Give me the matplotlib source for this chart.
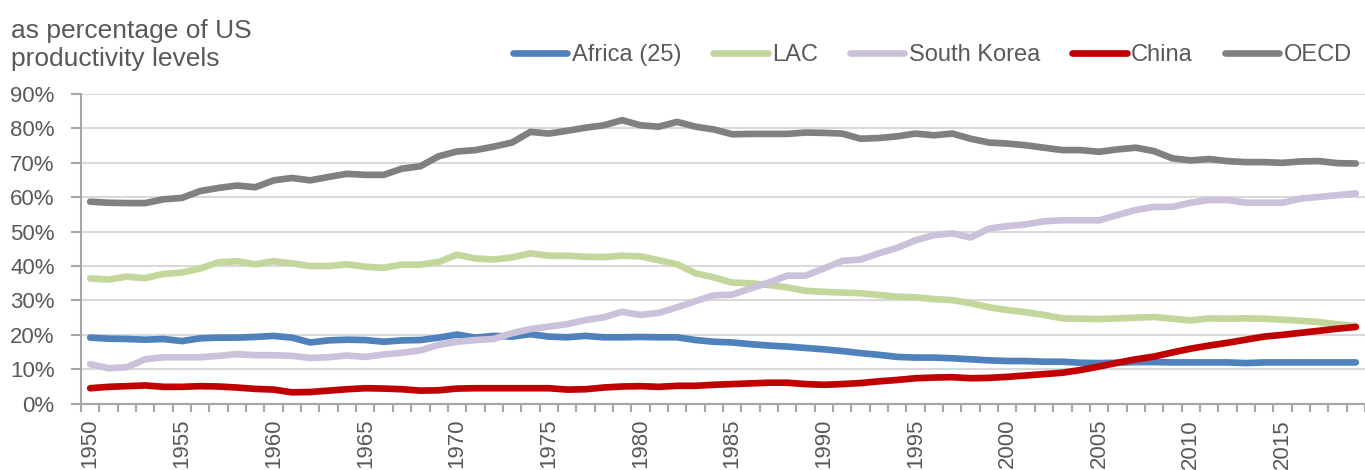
import numpy as np
import matplotlib
matplotlib.use("Agg")
import matplotlib.pyplot as plt

plt.rcParams['font.family'] = ['Liberation Sans', 'DejaVu Sans']

years = list(range(1950, 2020))

africa = [19.2, 18.9, 18.8, 18.6, 18.8, 18.2, 19.0, 19.2, 19.2, 19.4,
          19.7, 19.2, 17.8, 18.4, 18.6, 18.5, 18.0, 18.4, 18.5, 19.2,
          20.1, 19.2, 19.7, 19.5, 20.2, 19.5, 19.3, 19.7, 19.3, 19.3,
          19.4, 19.3, 19.3, 18.5, 18.0, 17.8, 17.3, 16.9, 16.6, 16.2,
          15.8, 15.3, 14.7, 14.2, 13.6, 13.4, 13.4, 13.2, 12.9, 12.6,
          12.4, 12.4, 12.2, 12.2, 11.9, 11.8, 11.9, 12.1, 12.1, 12.0,
          12.0, 12.0, 12.0, 11.8, 12.0, 12.0, 12.0, 12.0, 12.0, 12.0]

lac = [36.4, 36.1, 36.9, 36.5, 37.7, 38.1, 39.3, 41.1, 41.4, 40.5,
       41.4, 40.8, 40.0, 40.0, 40.5, 39.8, 39.5, 40.4, 40.4, 41.2,
       43.3, 42.2, 41.9, 42.5, 43.7, 43.0, 43.0, 42.7, 42.6, 43.0,
       42.8, 41.7, 40.5, 37.9, 36.7, 35.2, 35.0, 34.5, 33.8, 32.8,
       32.5, 32.3, 32.1, 31.6, 31.1, 30.9, 30.4, 30.1, 29.2, 28.0,
       27.2, 26.6, 25.8, 24.8, 24.7, 24.6, 24.8, 25.0, 25.2, 24.7,
       24.2, 24.8, 24.7, 24.8, 24.7, 24.4, 24.1, 23.7, 23.1, 22.6]

korea = [11.5, 10.3, 10.6, 12.9, 13.5, 13.5, 13.5, 13.9, 14.4, 14.1,
         14.1, 13.9, 13.3, 13.5, 14.0, 13.6, 14.3, 14.8, 15.5, 17.1,
         18.0, 18.5, 18.8, 20.5, 21.7, 22.4, 23.1, 24.3, 25.1, 26.7,
         25.8, 26.4, 28.0, 29.8, 31.5, 31.7, 33.5, 35.2, 37.2, 37.2,
         39.3, 41.5, 41.9, 43.7, 45.3, 47.5, 49.0, 49.5, 48.3, 50.9,
         51.6, 52.1, 53.0, 53.3, 53.3, 53.3, 54.8, 56.3, 57.2, 57.2,
         58.4, 59.2, 59.2, 58.4, 58.4, 58.4, 59.6, 60.1, 60.6, 61.1]

china = [4.5, 4.9, 5.1, 5.3, 4.9, 4.9, 5.1, 5.0, 4.7, 4.3,
         4.1, 3.3, 3.4, 3.8, 4.2, 4.5, 4.4, 4.2, 3.8, 3.9,
         4.4, 4.5, 4.5, 4.5, 4.5, 4.5, 4.1, 4.2, 4.7, 5.0,
         5.1, 4.9, 5.2, 5.2, 5.5, 5.7, 5.9, 6.1, 6.1, 5.7,
         5.5, 5.7, 6.0, 6.5, 6.9, 7.4, 7.6, 7.7, 7.4, 7.5,
         7.8, 8.2, 8.6, 9.0, 9.8, 10.8, 11.9, 12.9, 13.7, 14.9,
         16.0, 16.9, 17.7, 18.6, 19.5, 20.0, 20.6, 21.2, 21.8, 22.3]

oecd = [58.7, 58.4, 58.3, 58.3, 59.4, 59.8, 61.8, 62.7, 63.4, 62.9,
        64.9, 65.6, 64.9, 65.9, 66.8, 66.5, 66.5, 68.3, 69.0, 71.9,
        73.3, 73.7, 74.7, 75.9, 79.0, 78.5, 79.3, 80.2, 80.9, 82.4,
        80.9, 80.5, 81.9, 80.5, 79.7, 78.3, 78.4, 78.4, 78.4, 78.8,
        78.7, 78.5, 77.0, 77.2, 77.7, 78.5, 78.0, 78.5, 77.0, 75.9,
        75.6, 75.1, 74.4, 73.7, 73.7, 73.2, 73.9, 74.4, 73.4, 71.3,
        70.7, 71.1, 70.5, 70.2, 70.2, 70.0, 70.4, 70.5, 69.9, 69.8]

series = [("Africa (25)", africa, "#4F81BD"),
          ("LAC", lac, "#C3D69B"),
          ("South Korea", korea, "#CCC1DA"),
          ("China", china, "#C00000"),
          ("OECD", oecd, "#808080")]

txt = "#595959"
axc = "#A6A6A6"

fig = plt.figure(figsize=(13.65, 4.7), dpi=100)
ax = fig.add_axes([81 / 1365, 66.3 / 470, 1 - 81 / 1365, 309.7 / 470])

x = np.arange(len(years))
for name, vals, col in series:
    ax.plot(x, vals, color=col, lw=4.8, label=name,
            solid_capstyle='round', solid_joinstyle='round')

# y axis
ax.set_ylim(0, 90)
ax.set_yticks(range(0, 91, 10))
ax.set_yticklabels([f"{v}%" for v in range(0, 91, 10)])
ax.yaxis.grid(True, color="#D9D9D9", lw=1.5)
ax.set_axisbelow(True)

# x axis: category axis, labels every 5 years
ax.set_xlim(-0.5, 69.17)
lab_pos = [i for i, yr in enumerate(years) if yr % 5 == 0]
ax.set_xticks(lab_pos)
ax.set_xticklabels([str(years[i]) for i in lab_pos], rotation=90, va='top')
ax.set_xticks(np.arange(-0.5, 70, 1), minor=True)
ax.tick_params(axis='x', which='major', length=0, pad=11)
ax.tick_params(axis='x', which='minor', length=6, width=1.5, color=axc)
ax.tick_params(axis='y', length=7, width=1.5, color=axc, pad=12)
ax.tick_params(labelsize=16, labelcolor=txt)

for s in ['top', 'right']:
    ax.spines[s].set_visible(False)
for s in ['left', 'bottom']:
    ax.spines[s].set_color(axc)
    ax.spines[s].set_linewidth(1.5)

fig.text(11 / 1365, 1 - 19 / 470, "as percentage of US\nproductivity levels",
         fontsize=19, color=txt, va='top', ha='left', linespacing=1.2)

leg = fig.legend(loc='center right', bbox_to_anchor=(1352 / 1365, 1 - 55 / 470),
                 ncol=5, frameon=False, fontsize=17, handlelength=2.3,
                 handletextpad=0.2, columnspacing=1.35, borderpad=0,
                 borderaxespad=0)
for t in leg.get_texts():
    t.set_color(txt)

fig.savefig("out.png", dpi=100)
